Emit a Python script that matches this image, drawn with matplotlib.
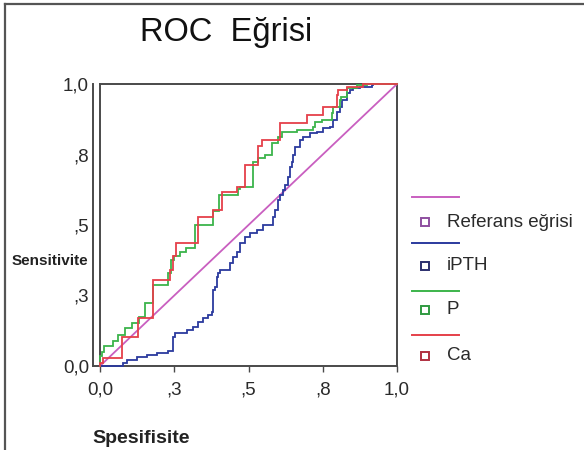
import matplotlib
matplotlib.use("Agg")
import matplotlib.pyplot as plt
from matplotlib.lines import Line2D

plt.rcParams['font.family'] = ['Liberation Sans', 'DejaVu Sans']

# ---------------- data ----------------
title = "ROC  Eğrisi"
xlabel = "Spesifisite"
ylabel = "Sensitivite"
tick_values = [0.0, 0.25, 0.5, 0.75, 1.0]
tick_labels = ["0,0", ",3", ",5", ",8", "1,0"]

series_names = ["Referans eğrisi", "iPTH", "P", "Ca"]
series_colors = ["#c95fc0", "#2b3a9e", "#3cb44b", "#e5404a"]
marker_edge = ["#8e4fa0", "#2b2f6e", "#2f9a40", "#b03040"]

ref_fpr = [0.0, 1.0]
ref_tpr = [0.0, 1.0]

ipth_fpr = [0.0, 0.079, 0.079, 0.090, 0.123, 0.157, 0.191, 0.230, 0.245, 0.247, 0.253,
            0.292, 0.314, 0.331, 0.348, 0.365, 0.376, 0.382, 0.387, 0.393, 0.398, 0.404,
            0.438, 0.449, 0.460, 0.471, 0.488, 0.505, 0.527, 0.550, 0.584, 0.589, 0.600,
            0.606, 0.617, 0.623, 0.634, 0.640, 0.645, 0.651, 0.657, 0.673, 0.685, 0.707,
            0.730, 0.752, 0.774, 0.786, 0.797, 0.808, 0.814, 0.831, 0.842, 0.853, 0.875,
            0.915, 0.920, 0.926, 1.0]
ipth_tpr = [0.0, 0.0, 0.004, 0.009, 0.021, 0.033, 0.039, 0.045, 0.053, 0.090, 0.104,
            0.116, 0.128, 0.139, 0.157, 0.169, 0.181, 0.193, 0.270, 0.281, 0.317, 0.329,
            0.340, 0.364, 0.388, 0.405, 0.435, 0.459, 0.470, 0.482, 0.500, 0.530, 0.553,
            0.590, 0.605, 0.624, 0.642, 0.671, 0.707, 0.725, 0.748, 0.778, 0.801, 0.813,
            0.825, 0.831, 0.843, 0.849, 0.872, 0.902, 0.920, 0.943, 0.967, 0.979, 0.985,
            0.988, 0.996, 1.0, 1.0]

p_fpr = [0.0, 0.006, 0.015, 0.025, 0.045, 0.045, 0.062, 0.062, 0.084, 0.084, 0.107,
         0.107, 0.130, 0.130, 0.152, 0.152, 0.160, 0.180, 0.183, 0.230, 0.240, 0.250,
         0.270, 0.290, 0.320, 0.325, 0.380, 0.380, 0.400, 0.415, 0.466, 0.470, 0.485,
         0.516, 0.516, 0.533, 0.556, 0.578, 0.600, 0.612, 0.662, 0.718, 0.724, 0.746,
         0.780, 0.786, 0.808, 0.813, 0.830, 0.864, 0.898, 0.920, 1.0]
p_tpr = [0.0, 0.035, 0.050, 0.070, 0.070, 0.088, 0.088, 0.110, 0.110, 0.134, 0.134,
         0.152, 0.152, 0.175, 0.175, 0.200, 0.225, 0.225, 0.287, 0.287, 0.330, 0.376,
         0.390, 0.405, 0.417, 0.500, 0.500, 0.535, 0.550, 0.606, 0.606, 0.627, 0.635,
         0.635, 0.720, 0.725, 0.736, 0.748, 0.790, 0.813, 0.831, 0.837, 0.849, 0.866,
         0.872, 0.896, 0.920, 0.943, 0.955, 0.985, 0.996, 1.0, 1.0]

ca_fpr = [0.0, 0.010, 0.035, 0.075, 0.075, 0.128, 0.128, 0.180, 0.180, 0.235, 0.245,
          0.256, 0.275, 0.330, 0.330, 0.380, 0.380, 0.410, 0.410, 0.460, 0.465, 0.488,
          0.488, 0.533, 0.545, 0.556, 0.606, 0.615, 0.696, 0.696, 0.752, 0.752, 0.797,
          0.800, 0.830, 0.836, 0.886, 0.890, 1.0]
ca_tpr = [0.0, 0.010, 0.030, 0.030, 0.104, 0.104, 0.170, 0.170, 0.305, 0.305, 0.340,
          0.390, 0.436, 0.436, 0.530, 0.530, 0.553, 0.553, 0.618, 0.618, 0.635, 0.635,
          0.713, 0.713, 0.780, 0.800, 0.800, 0.860, 0.860, 0.890, 0.890, 0.920, 0.920,
          0.960, 0.980, 0.990, 0.990, 1.0, 1.0]

curves = [(ref_fpr, ref_tpr), (ipth_fpr, ipth_tpr), (p_fpr, p_tpr), (ca_fpr, ca_tpr)]
draw_styles = ["default", "steps-pre", "steps-pre", "steps-pre"]

# ---------------- figure ----------------
W, H = 584, 450
fig = plt.figure(figsize=(W / 100, H / 100), dpi=100)
fig.patch.set_facecolor("white")

def fx(px):
    return px / W

def fy(py):
    return 1 - py / H

ax_l, ax_r, ax_t, ax_b = 100, 397, 84, 366
ax = fig.add_axes([fx(ax_l), fy(ax_b), (ax_r - ax_l) / W, (ax_b - ax_t) / H])
ax.set_xlim(0, 1)
ax.set_ylim(0, 1)

frame_col = "#4a4a4a"
for s in ax.spines.values():
    s.set_color(frame_col)
    s.set_linewidth(1.4)

for (xs, ys), col, ds in zip(curves, series_colors, draw_styles):
    ax.plot(xs, ys, color=col, lw=1.3, drawstyle=ds, solid_joinstyle="miter",
            clip_on=False, zorder=3)

ax.set_xticks(tick_values)
ax.set_xticklabels(tick_labels)
ax.set_yticks(tick_values)
ax.set_yticklabels(tick_labels)
ax.tick_params(axis="x", direction="out", length=4, width=1.0, color=frame_col,
               pad=7, labelsize=13.5, labelcolor="#2a2a2a")
ax.tick_params(axis="y", length=0, pad=8, labelsize=13.5, labelcolor="#2a2a2a")
for lab in ax.get_yticklabels():
    lab.set_verticalalignment("center_baseline")

# outer y-axis line (double line on the left) and extended bottom line
gap = (ax_l - 93) / (ax_r - ax_l)
ax.add_line(Line2D([-gap, -gap], [0, 1], transform=ax.transAxes, color=frame_col,
                   lw=1.4, clip_on=False))
ax.add_line(Line2D([-gap, 0], [0, 0], transform=ax.transAxes, color=frame_col,
                   lw=1.4, clip_on=False))

# titles and labels
fig.text(fx(140), fy(41), title, fontsize=23.5, ha="left", va="baseline", color="#111111")
fig.text(fx(12), fy(261), ylabel, fontsize=11, fontweight="bold", ha="left",
         va="center", color="#222222")
fig.text(fx(92), fy(443), xlabel, fontsize=14, fontweight="bold", ha="left",
         va="baseline", color="#222222")

# legend (manual, SPSS style)
line_y = [197, 243, 291, 335]
mark_y = [222, 266, 310, 356]
for name, col, mcol, ly, my in zip(series_names, series_colors, marker_edge, line_y, mark_y):
    fig.add_artist(Line2D([fx(412), fx(459)], [fy(ly), fy(ly)], transform=fig.transFigure,
                          color=col, lw=1.4))
    fig.add_artist(Line2D([fx(425)], [fy(my)], transform=fig.transFigure, marker="s",
                          markersize=5.5, markerfacecolor="white", markeredgecolor=mcol,
                          markeredgewidth=1.4, linestyle="none"))
    fig.text(fx(447), fy(my), name, fontsize=13.5, ha="left", va="center", color="#2a2a2a")

# figure border (left and top)
fig.add_artist(Line2D([fx(5), fx(5)], [fy(4), 0], transform=fig.transFigure,
                      color="#555555", lw=1.6))
fig.add_artist(Line2D([fx(5), 1], [fy(4), fy(4)], transform=fig.transFigure,
                      color="#555555", lw=1.6))

fig.savefig("out.png", dpi=100)
